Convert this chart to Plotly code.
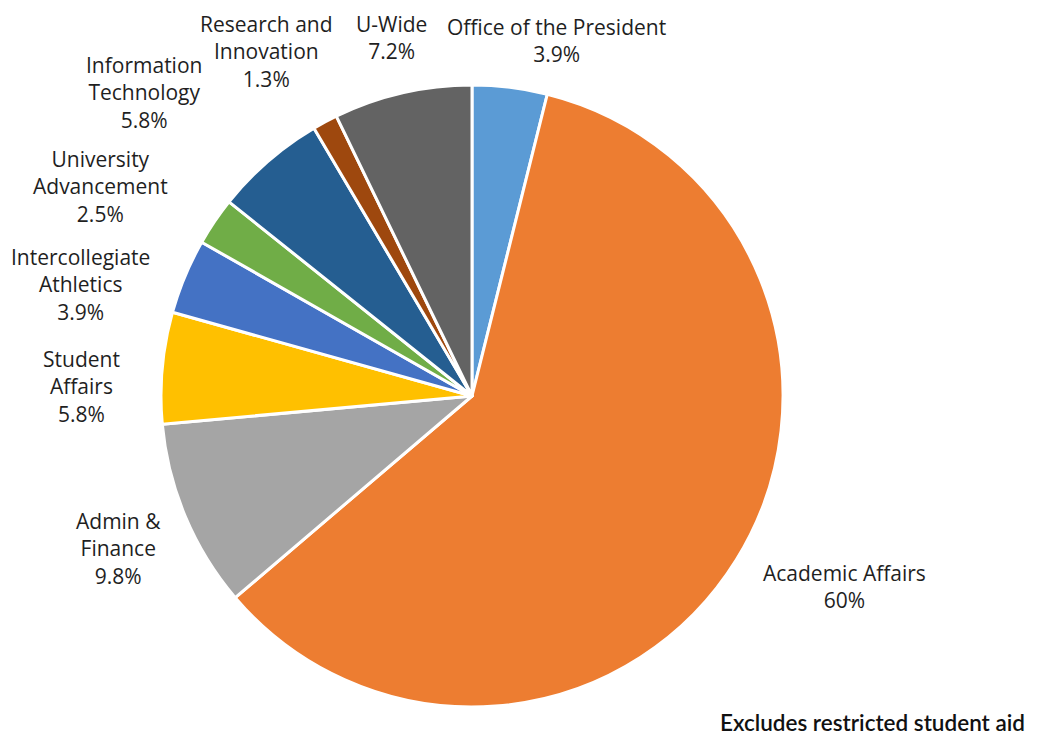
import math
import plotly.graph_objects as go

# ---- data ----
categories = ["Office of the President", "Academic Affairs", "Admin &<br>Finance", "Student<br>Affairs",
              "Intercollegiate<br>Athletics", "University<br>Advancement", "Information<br>Technology",
              "Research and<br>Innovation", "U-Wide"]
shares = [3.9, 60.0, 9.8, 5.8, 3.9, 2.5, 5.8, 1.3, 7.2]
pct_labels = ["3.9%", "60%", "9.8%", "5.8%", "3.9%", "2.5%", "5.8%", "1.3%", "7.2%"]
footnote = "Excludes restricted student aid"

# ---- style ----
colors = ["#5B9BD5", "#ED7D31", "#A5A5A5", "#FFC000", "#4472C4", "#70AD47", "#255E91", "#9E480E", "#636363"]
FONT = "Open Sans, Lato, sans-serif"
FS = 21
LINE_H = 29

PAGE_OFF = 8            # default body margin of the html page
PW, PH = 1037, 748      # page size
W, H = PW - 2 * PAGE_OFF, PH - 2 * PAGE_OFF
cx, cy, R = 472, 396, 311   # pie centre / radius in page pixels
GAP = 20
# Excel-like label layout adjustments (pixels) applied after angle-based placement
label_nudge = [(31, 2), (26, 1), (-17, 7), (-27, 25), (-20, 33), (-54, 1), (-76, -21), (-22, -14), (0, -8)]


def px_to_paper(x, y):
    return (x - PAGE_OFF) / W, 1 - (y - PAGE_OFF) / H


x0, y1 = px_to_paper(cx - R, cy - R)
x1, y0 = px_to_paper(cx + R, cy + R)

fig = go.Figure(go.Pie(
    labels=[c.replace("<br>", " ") for c in categories],
    values=shares,
    sort=False,
    direction="clockwise",
    rotation=0,
    textinfo="none",
    marker=dict(colors=colors, line=dict(color="white", width=3)),
    domain=dict(x=[x0, x1], y=[y0, y1]),
    showlegend=False,
    hoverinfo="label+percent",
))

# labels placed from the slice mid-angles
total = sum(shares)
cum = 0.0
for cat, v, pct, (nx, ny) in zip(categories, shares, pct_labels, label_nudge):
    mid = (cum + v / 2) / total * 2 * math.pi
    cum += v
    s, c = math.sin(mid), math.cos(mid)
    lines = cat.split("<br>") + [pct]
    w = max(len(t) for t in lines) * 20 * 0.48
    h = len(lines) * LINE_H
    lx = cx + (R + GAP) * s + s * w / 2 + nx
    ly = cy - (R + GAP) * c - c * h / 2 + ny
    px, py = px_to_paper(lx, ly)
    fig.add_annotation(
        text=cat + "<br>" + pct, xref="paper", yref="paper", x=px, y=py,
        xanchor="center", yanchor="middle", align="center", showarrow=False,
        font=dict(family=FONT, size=FS, color="#1f1f1f"),
    )

fx, fy = px_to_paper(1027, 722)
fig.add_annotation(
    text=footnote, xref="paper", yref="paper", x=fx, y=fy,
    xanchor="right", yanchor="middle", showarrow=False,
    font=dict(family="Lato, sans-serif", size=22.5, color="#111111", weight=600),
)

fig.update_layout(
    width=W, height=H,
    margin=dict(l=0, r=0, t=0, b=0),
    paper_bgcolor="white", plot_bgcolor="white",
)

fig.write_html("out.html")
